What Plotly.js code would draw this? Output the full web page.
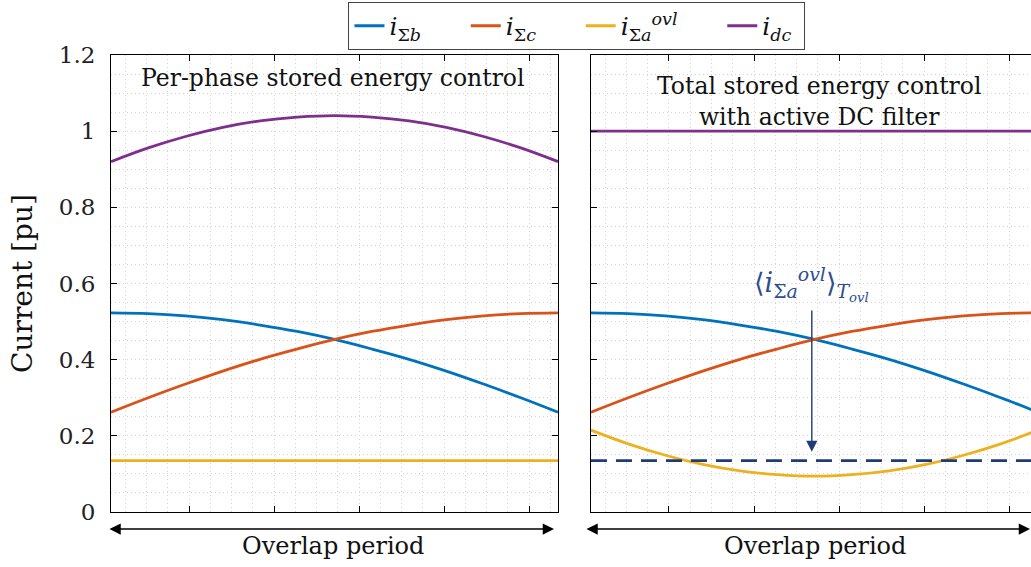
<!DOCTYPE html>
<html>
<head>
<meta charset="utf-8">
<script src="https://cdn.plot.ly/plotly-3.0.1.min.js"></script>
<style>html,body{margin:0;padding:0;background:#fff;}</style>
</head>
<body>
<div id="chart" style="width:1031px;height:567px;"></div>
<script>
// Position along the overlap period (fraction of the period)
const t = [0, 0.0833, 0.1667, 0.25, 0.3333, 0.4167, 0.5, 0.5833, 0.6667, 0.75, 0.8333, 0.9167, 1];

// Left panel: per-phase stored energy control
const leftSigmaB = [0.523, 0.521, 0.515, 0.505, 0.491, 0.474, 0.453, 0.428, 0.401, 0.370, 0.336, 0.300, 0.262];
const leftSigmaC = [0.262, 0.300, 0.336, 0.370, 0.401, 0.428, 0.453, 0.474, 0.491, 0.505, 0.515, 0.521, 0.523];
const leftSigmaAovl = [0.135, 0.135, 0.135, 0.135, 0.135, 0.135, 0.135, 0.135, 0.135, 0.135, 0.135, 0.135, 0.135];
const leftDc = [0.920, 0.956, 0.986, 1.010, 1.027, 1.037, 1.041, 1.037, 1.027, 1.010, 0.986, 0.956, 0.920];

// Right panel: total stored energy control with active DC filter
const rightSigmaB = [0.523, 0.521, 0.515, 0.505, 0.491, 0.474, 0.453, 0.428, 0.401, 0.370, 0.336, 0.300, 0.262];
const rightSigmaC = [0.262, 0.300, 0.336, 0.370, 0.401, 0.428, 0.453, 0.474, 0.491, 0.505, 0.515, 0.521, 0.523];
const rightSigmaAovl = [0.215, 0.179, 0.149, 0.125, 0.108, 0.098, 0.094, 0.098, 0.108, 0.125, 0.149, 0.179, 0.215];
const rightDc = [1, 1, 1, 1, 1, 1, 1, 1, 1, 1, 1, 1, 1];
const rightMeanAovl = [0.135, 0.135, 0.135, 0.135, 0.135, 0.135, 0.135, 0.135, 0.135, 0.135, 0.135, 0.135, 0.135];

const yTicks = [0, 0.2, 0.4, 0.6, 0.8, 1, 1.2];
const yTickText = ['0', '0.2', '0.4', '0.6', '0.8', '1', '1.2'];

const SP = '\u00a0\u00a0\u00a0\u00a0\u00a0';
const names = [
  '<i>i</i><sub>Σ<i>b</i></sub>' + SP,
  '<i>i</i><sub>Σ<i>c</i></sub>' + SP,
  '<i>i</i><sub>Σ<i>a</i></sub><sup><i>ovl</i></sup>' + SP,
  '<i>i</i><sub><i>dc</i></sub>\u00a0'
];
const colors = ['#0072BD', '#D95319', '#EDB120', '#7E2F8E'];
const LW = 2.8;

function tr(y, i, xa, ya, show) {
  return {x: t, y: y, type: 'scatter', mode: 'lines', name: names[i],
    line: {color: colors[i], width: LW, shape: 'spline'},
    xaxis: xa, yaxis: ya, showlegend: show, hoverinfo: 'skip'};
}

const data = [
  tr(leftSigmaB, 0, 'x', 'y', true),
  tr(leftSigmaC, 1, 'x', 'y', true),
  tr(leftSigmaAovl, 2, 'x', 'y', true),
  tr(leftDc, 3, 'x', 'y', true),
  tr(rightSigmaB, 0, 'x2', 'y2', false),
  tr(rightSigmaC, 1, 'x2', 'y2', false),
  tr(rightSigmaAovl, 2, 'x2', 'y2', false),
  tr(rightDc, 3, 'x2', 'y2', false),
  {x: t, y: rightMeanAovl, type: 'scatter', mode: 'lines', xaxis: 'x2', yaxis: 'y2',
   line: {color: '#1F3C77', width: 2.6, dash: '16px,9px'}, showlegend: false, hoverinfo: 'skip'}
];

const FONT = "'DejaVu Serif'";
const gridCol = '#d4d4d4';
const GD = '1px,3px';
const xMajor = 0.1902;

function xax(domain, range, anchor) {
  return {
    domain: domain, range: range, anchor: anchor,
    showticklabels: false, ticks: 'inside', ticklen: 6, tickcolor: '#000',
    tick0: 0.1745, dtick: xMajor,
    showline: true, linecolor: '#000', linewidth: 1, mirror: 'ticks',
    showgrid: true, gridcolor: gridCol, griddash: GD, gridwidth: 1,
    minor: {tick0: 0.1745, dtick: xMajor / 4, showgrid: true, gridcolor: gridCol, griddash: GD, gridwidth: 1, ticks: ''},
    zeroline: false, fixedrange: true
  };
}
function yax(anchor, labels, mirror) {
  return {
    anchor: anchor, range: [0, 1.2], domain: [0, 1],
    tickvals: yTicks, ticktext: yTickText, showticklabels: labels,
    ticks: 'inside', ticklen: 6, tickcolor: '#000', ticklabelstandoff: 10,
    tickfont: {family: FONT, size: 23, color: '#222'},
    showline: true, linecolor: '#000', linewidth: 1, mirror: mirror,
    showgrid: true, gridcolor: gridCol, griddash: GD, gridwidth: 1,
    minor: {dtick: 0.05, tick0: 0, showgrid: true, gridcolor: gridCol, griddash: GD, gridwidth: 1, ticks: ''},
    zeroline: false, fixedrange: true
  };
}

const yl = yax('x', true, 'ticks');
yl.title = {text: 'Current [pu]', font: {family: FONT, size: 28, color: '#111'}, standoff: 18};
const yr = yax('x2', false, false);

const navy = '#1F3C77';
const layout = {
  width: 1031, height: 567,
  margin: {l: 111, r: 0, t: 55, b: 55},
  paper_bgcolor: '#fff', plot_bgcolor: '#fff',
  font: {family: FONT, color: '#111'},
  xaxis: xax([0, 0.4859], [0, 1], 'y'),
  xaxis2: xax([0.5217, 1], [0, 0.9843], 'y2'),
  yaxis: yl,
  yaxis2: yr,
  showlegend: true,
  legend: {orientation: 'h', x: 0.5065, xanchor: 'center', y: 1.116, yanchor: 'top',
    bordercolor: '#444', borderwidth: 1, bgcolor: '#fff',
    font: {family: FONT, size: 25, color: '#111'}, itemwidth: 30, tracegroupgap: 0},
  annotations: [
    {xref: 'x', yref: 'y', x: 0.497, y: 1.14, xanchor: 'center', yanchor: 'middle', text: 'Per-phase stored energy control', showarrow: false,
     font: {family: FONT, size: 23.5, color: '#111'}},
    {xref: 'x2', yref: 'y2', x: 0.512, y: 1.078, xanchor: 'center', yanchor: 'middle', text: 'Total stored energy control<br>with active DC filter', showarrow: false,
     font: {family: FONT, size: 23.5, color: '#111'}},
    {xref: 'x2', yref: 'y2', x: 0.494, y: 0.158, axref: 'x2', ayref: 'y2', ax: 0.494, ay: 0.533,
     text: '', showarrow: true, arrowhead: 2, arrowsize: 1.6, arrowwidth: 1.4, arrowcolor: navy, standoff: 0},
    {xref: 'x2', yref: 'y2', x: 0.494, y: 0.6, xanchor: 'center', yanchor: 'middle', text: '⟨<i>i</i><sub>Σ<i>a</i></sub><sup><i>ovl</i></sup>⟩<sub><i>T</i><sub><i>ovl</i></sub></sub>',
     showarrow: false, font: {family: FONT, size: 27, color: '#2E4D8F'}},
    {xref: 'paper', yref: 'paper', x: 0.4815, y: -0.0372, ax: -446, ay: 0, text: '', showarrow: true,
     arrowside: 'end+start', arrowhead: 2, arrowsize: 1.5, arrowwidth: 1.5, arrowcolor: '#000', standoff: 0, startstandoff: 0},
    {xref: 'paper', yref: 'paper', x: 0.9989, y: -0.0372, ax: -445, ay: 0, text: '', showarrow: true,
     arrowside: 'end+start', arrowhead: 2, arrowsize: 1.5, arrowwidth: 1.5, arrowcolor: '#000', standoff: 0, startstandoff: 0},
    {xref: 'paper', yref: 'paper', x: 0.2413, y: -0.0744, xanchor: 'center', yanchor: 'middle', text: 'Overlap period', showarrow: false,
     font: {family: FONT, size: 24, color: '#111'}},
    {xref: 'paper', yref: 'paper', x: 0.7652, y: -0.0744, xanchor: 'center', yanchor: 'middle', text: 'Overlap period', showarrow: false,
     font: {family: FONT, size: 24, color: '#111'}}
  ]
};

Plotly.newPlot('chart', data, layout, {staticPlot: true, displayModeBar: false});
</script>
</body>
</html>
